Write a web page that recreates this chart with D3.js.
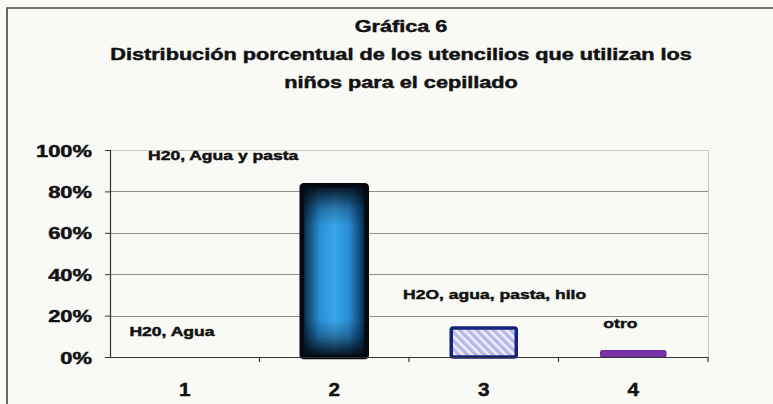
<!DOCTYPE html>
<html>
<head>
<meta charset="utf-8">
<script src="https://cdn.jsdelivr.net/npm/d3@7/dist/d3.min.js"></script>
<style>
  html, body { margin: 0; padding: 0; background: #f9f9f6; }
  svg { display: block; }
  text { font-family: "Liberation Sans", Arial, sans-serif; font-weight: bold; fill: #111; stroke: #111; stroke-width: 0.45; }
</style>
</head>
<body>
<svg id="chart" width="773" height="404"></svg>
<script>
// Categories, shares and the names written beside each bar
const categories = ["1", "2", "3", "4"];
const shares = [0, 0.83, 0.14, 0.03];
const barNames = ["H20, Agua", "H20, Agua y pasta", "H2O, agua, pasta, hilo", "otro"];
const yTicks = [0, 0.2, 0.4, 0.6, 0.8, 1];
const titleLines = [
  "Gráfica 6",
  "Distribución porcentual de los utencilios que utilizan los",
  "niños para el cepillado"
];

const W = 773, H = 404;
const plot = { left: 110, right: 708, top: 150, bottom: 357 };
const stretch = 1.37; // wide lettering

const svg = d3.select("#chart");
const defs = svg.append("defs");

// Outer frame (top and left edges)
svg.append("path")
  .attr("d", `M7,${H} L7,8 L${W},8`)
  .attr("fill", "none").attr("stroke", "#444").attr("stroke-width", 1.6);

// Title
const titleY = [32, 60, 88];
titleLines.forEach((t, i) => {
  svg.append("text")
    .attr("transform", `translate(401,${titleY[i]}) scale(1.39,1)`)
    .attr("text-anchor", "middle")
    .attr("font-size", 15.6)
    .text(t);
});

const x = d3.scaleBand().domain(categories).range([plot.left, plot.right]).paddingInner(0.565).paddingOuter(0.2825);
const xBounds = d3.scaleLinear().domain([0, categories.length]).range([plot.left, plot.right]);
const y = d3.scaleLinear().domain([0, 1]).range([plot.bottom, plot.top]);

// Gridlines
svg.append("g").selectAll("line").data(yTicks.filter(d => d > 0)).join("line")
  .attr("x1", plot.left).attr("x2", plot.right)
  .attr("y1", d => Math.round(y(d)) + 0.5).attr("y2", d => Math.round(y(d)) + 0.5)
  .attr("stroke", d => d === 1 ? "#c9c9c6" : "#8f8f8c").attr("stroke-width", 1.2);

// Right edge of plot area
svg.append("line")
  .attr("x1", plot.right + 0.5).attr("x2", plot.right + 0.5)
  .attr("y1", plot.top).attr("y2", plot.bottom)
  .attr("stroke", "#c4c4c1").attr("stroke-width", 1);

// Fills: blue bar shaded dark towards its edges
const blueH = defs.append("linearGradient").attr("id", "blueH")
  .attr("x1", "0%").attr("x2", "100%").attr("y1", "0%").attr("y2", "0%");
[["0%", "#061726"], ["10%", "#114a78"], ["28%", "#2a8fd6"], ["50%", "#3aa6ec"], ["72%", "#2a8fd6"], ["90%", "#114a78"], ["100%", "#061726"]]
  .forEach(([o, c]) => blueH.append("stop").attr("offset", o).attr("stop-color", c));
const shadeV = defs.append("linearGradient").attr("id", "shadeV")
  .attr("x1", "0%").attr("x2", "0%").attr("y1", "0%").attr("y2", "100%");
[["0%", 0.95], ["5%", 0.7], ["14%", 0.25], ["24%", 0], ["78%", 0], ["88%", 0.3], ["96%", 0.75], ["100%", 0.95]]
  .forEach(([o, a]) => shadeV.append("stop").attr("offset", o).attr("stop-color", "#030810").attr("stop-opacity", a));

const hatch = defs.append("pattern").attr("id", "hatch")
  .attr("patternUnits", "userSpaceOnUse").attr("width", 6).attr("height", 6)
  .attr("patternTransform", "rotate(-45)");
hatch.append("rect").attr("width", 6).attr("height", 6).attr("fill", "#efeffc");
hatch.append("rect").attr("width", 3.4).attr("height", 6).attr("fill", "#b8b6ea");

const fills = ["#888", "url(#blueH)", "url(#hatch)", "#7a35a8"];
const overlays = [null, "url(#shadeV)", null, null];
const strokes = ["#333", "#050a10", "#13237e", "#6e2c9c"];
const strokeW = [1, 4.5, 3.5, 1.5];

const shown = categories.filter((c, i) => shares[i] > 0);
const idx = c => categories.indexOf(c);

// Bars
const bars = svg.append("g");
bars.selectAll("rect.fill").data(shown).join("rect")
  .attr("class", "fill")
  .attr("x", c => x(c))
  .attr("y", c => y(shares[idx(c)]))
  .attr("width", x.bandwidth())
  .attr("height", c => plot.bottom - y(shares[idx(c)]))
  .attr("fill", c => fills[idx(c)]);
bars.selectAll("rect.shade").data(shown.filter(c => overlays[idx(c)])).join("rect")
  .attr("class", "shade")
  .attr("x", c => x(c))
  .attr("y", c => y(shares[idx(c)]))
  .attr("width", x.bandwidth())
  .attr("height", c => plot.bottom - y(shares[idx(c)]))
  .attr("fill", c => overlays[idx(c)]);
bars.selectAll("rect.edge").data(shown).join("rect")
  .attr("class", "edge")
  .attr("x", c => x(c))
  .attr("y", c => y(shares[idx(c)]))
  .attr("width", x.bandwidth())
  .attr("height", c => plot.bottom - y(shares[idx(c)]))
  .attr("rx", 2)
  .attr("fill", "none")
  .attr("stroke", c => strokes[idx(c)])
  .attr("stroke-width", c => strokeW[idx(c)]);

// Y axis
const yAxis = svg.append("g").attr("transform", `translate(${plot.left},0)`)
  .call(d3.axisLeft(y).tickValues(yTicks).tickSize(5).tickFormat(d3.format(".0%")));
yAxis.select(".domain").attr("stroke", "#333").attr("stroke-width", 1.2);
yAxis.selectAll(".tick line").attr("stroke", "#333");
yAxis.selectAll(".tick text")
  .attr("x", null).attr("dy", null)
  .attr("font-size", 16).attr("font-family", "Liberation Sans, Arial, sans-serif")
  .attr("fill", "#111")
  .attr("text-anchor", "end")
  .attr("transform", `translate(-18,6) scale(${stretch},1)`);

// X axis with ticks at category boundaries
const xAxisG = svg.append("g");
xAxisG.append("line")
  .attr("x1", plot.left).attr("x2", plot.right)
  .attr("y1", plot.bottom + 0.5).attr("y2", plot.bottom + 0.5)
  .attr("stroke", "#333").attr("stroke-width", 1.2);
xAxisG.selectAll("line.b").data(d3.range(1, categories.length + 1)).join("line")
  .attr("class", "b")
  .attr("x1", d => xBounds(d)).attr("x2", d => xBounds(d))
  .attr("y1", plot.bottom).attr("y2", plot.bottom + 5)
  .attr("stroke", "#333").attr("stroke-width", 1.2);
xAxisG.selectAll("text").data(categories).join("text")
  .attr("transform", c => `translate(${x(c) + x.bandwidth() / 2},396) scale(1.15,1)`)
  .attr("text-anchor", "middle").attr("font-size", 18)
  .text(c => c);

// Name labels beside the bars: [share level, offset from band start in band widths]
const labelAt = [[0.125, 0.13], [0.975, -0.746], [0.305, -0.04], [0.165, 0.30]];
const band = xBounds(1) - xBounds(0);
svg.append("g").selectAll("text").data(barNames).join("text")
  .attr("transform", (d, i) => `translate(${xBounds(i) + labelAt[i][1] * band},${y(labelAt[i][0]) + 5}) scale(${stretch},1)`)
  .attr("font-size", 12.8)
  .text(d => d);
</script>
</body>
</html>
